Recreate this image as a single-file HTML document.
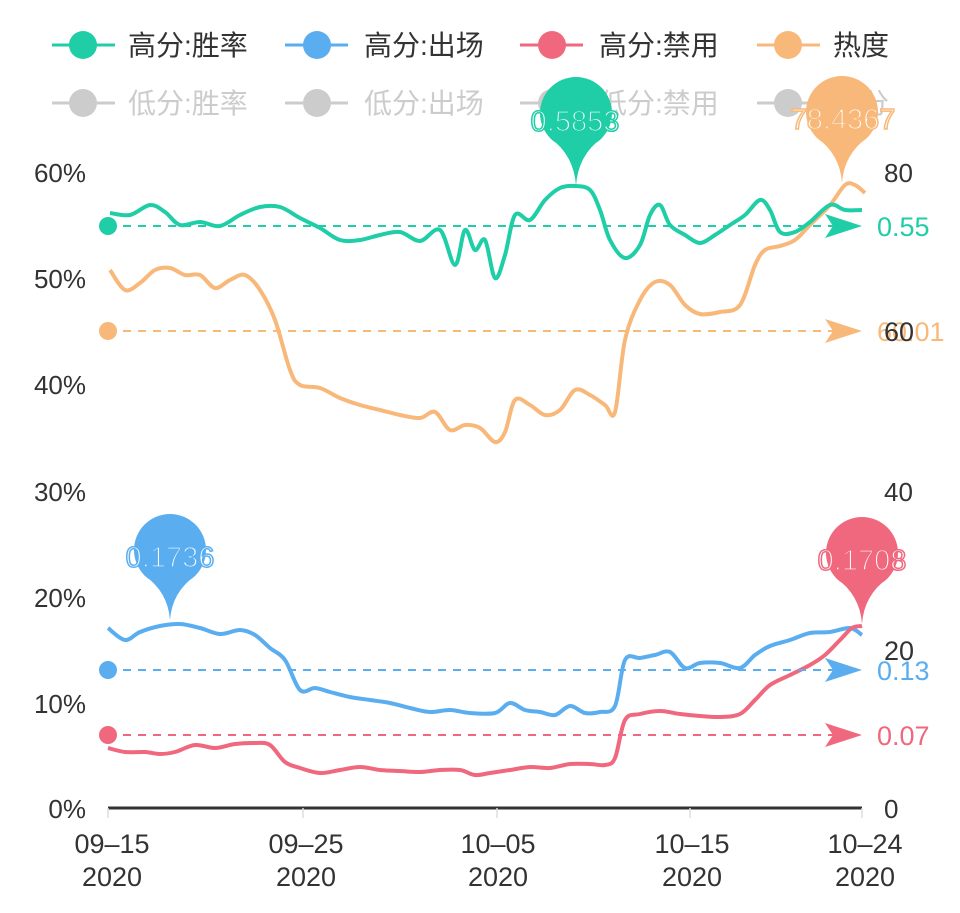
<!DOCTYPE html>
<html><head><meta charset="utf-8"><style>
html,body{margin:0;padding:0;background:#fff;width:960px;height:913px;overflow:hidden}
svg text{font-family:"Liberation Sans","Noto Sans CJK SC",sans-serif}
</style></head><body>
<svg id="s" width="960" height="913" viewBox="0 0 960 913" xmlns="http://www.w3.org/2000/svg">
<g font-size="28">
 <g fill="#333">
  <line x1="52" y1="45" x2="115" y2="45" stroke="#1fcea6" stroke-width="3"/><circle cx="83" cy="45" r="14" fill="#1fcea6"/>
  <text x="128" y="55">高分:胜率</text>
  <line x1="285" y1="45" x2="348" y2="45" stroke="#5aaef0" stroke-width="3"/><circle cx="317" cy="45" r="14" fill="#5aaef0"/>
  <text x="364" y="55">高分:出场</text>
  <line x1="520" y1="45" x2="583" y2="45" stroke="#f0687e" stroke-width="3"/><circle cx="552" cy="45" r="14" fill="#f0687e"/>
  <text x="599" y="55">高分:禁用</text>
  <line x1="757" y1="45" x2="820" y2="45" stroke="#f8b87a" stroke-width="3"/><circle cx="788" cy="45" r="14" fill="#f8b87a"/>
  <text x="833" y="55">热度</text>
 </g>
 <g fill="#ccc">
  <line x1="52" y1="103" x2="115" y2="103" stroke="#ccc" stroke-width="3"/><circle cx="83" cy="103" r="14"/>
  <text x="128" y="113">低分:胜率</text>
  <line x1="285" y1="103" x2="348" y2="103" stroke="#ccc" stroke-width="3"/><circle cx="317" cy="103" r="14"/>
  <text x="364" y="113">低分:出场</text>
  <line x1="520" y1="103" x2="583" y2="103" stroke="#ccc" stroke-width="3"/><circle cx="552" cy="103" r="14"/>
  <text x="599" y="113">低分:禁用</text>
  <line x1="757" y1="103" x2="820" y2="103" stroke="#ccc" stroke-width="3"/><circle cx="788" cy="103" r="14"/>
  <text x="833" y="113">低分</text>
 </g>
</g>
<g font-size="26" fill="#333">
 <text x="86" y="182" text-anchor="end">60%</text>
 <text x="86" y="288" text-anchor="end">50%</text>
 <text x="86" y="394" text-anchor="end">40%</text>
 <text x="86" y="501" text-anchor="end">30%</text>
 <text x="86" y="607" text-anchor="end">20%</text>
 <text x="86" y="713" text-anchor="end">10%</text>
 <text x="86" y="818" text-anchor="end">0%</text>
 <text x="884" y="182">80</text>
 <text x="884" y="501">40</text>
 <text x="884" y="818">0</text>
</g>
<line x1="108" y1="808" x2="862" y2="808" stroke="#333" stroke-width="3"/>
<g stroke="#ddd" stroke-width="1.5"><line x1="108" y1="808" x2="108" y2="818"/><line x1="303" y1="808" x2="303" y2="818"/><line x1="497" y1="808" x2="497" y2="818"/><line x1="690" y1="808" x2="690" y2="818"/><line x1="862" y1="808" x2="862" y2="818"/></g>
<g font-size="27" fill="#333" text-anchor="middle">
 <text x="112" y="853">09–15</text><text x="112" y="886">2020</text>
 <text x="306" y="853">09–25</text><text x="306" y="886">2020</text>
 <text x="498" y="853">10–05</text><text x="498" y="886">2020</text>
 <text x="692" y="853">10–15</text><text x="692" y="886">2020</text>
 <text x="865" y="853">10–24</text><text x="865" y="886">2020</text>
</g>
<g fill="none" stroke-width="4" stroke-linejoin="round">
<polyline class="sm" stroke="#f8b87a" points="110,270 125,290 140,283 155,270 170,268 185,275 200,275 215,288 230,280 245,275 260,290 275,320 290,370 300,385 320,388 340,398 360,405 380,410 400,415 420,418 435,412 450,430 465,425 480,428 495,442 505,432 515,400 530,405 545,415 560,410 575,390 590,395 605,405 615,412 625,340 640,300 655,282 670,285 685,305 700,314 720,312 740,305 755,265 765,250 780,246 795,240 810,225 830,205 845,185 855,185 865,193"/>
<polyline class="sm" stroke="#1fcea6" points="110,213 130,215 150,205 165,212 180,225 200,222 220,226 240,215 260,207 280,207 300,218 320,228 340,240 360,240 380,235 400,232 420,241 440,230 455,265 465,230 475,250 485,240 495,278 505,255 515,215 530,220 545,200 560,188 575,186 590,190 600,210 610,240 625,258 640,245 650,215 660,205 670,225 685,235 700,243 715,235 730,225 745,215 760,200 770,210 780,232 795,232 810,222 830,205 845,210 862,210"/>
<polyline class="sm" stroke="#5aaef0" points="108,628 125,640 140,632 160,626 180,624 200,628 220,634 240,630 255,635 270,648 285,660 300,690 315,688 330,692 350,697 370,700 390,703 410,708 430,712 450,710 470,713 495,713 510,703 525,710 540,712 555,715 570,706 585,713 600,712 615,706 625,660 640,658 655,655 670,652 685,668 700,663 720,663 740,668 755,655 770,646 790,640 810,633 830,632 850,628 862,635"/>
<polyline class="sm" stroke="#f0687e" points="108,748 125,752 145,752 160,754 175,752 195,745 215,748 235,744 255,743 270,745 285,762 300,768 320,773 340,770 360,767 380,770 400,771 420,772 440,770 460,770 475,775 490,773 510,770 530,767 550,768 570,764 590,764 605,765 615,758 625,720 640,714 660,711 680,714 700,716 720,717 740,714 755,700 770,685 790,675 810,665 825,655 840,640 852,628 862,626"/>
</g>
<g stroke-width="2" stroke-dasharray="8,7">
 <line x1="108" y1="226" x2="835" y2="226" stroke="#1fcea6"/>
 <line x1="108" y1="331" x2="835" y2="331" stroke="#f8b87a"/>
 <line x1="108" y1="670" x2="835" y2="670" stroke="#5aaef0"/>
 <line x1="108" y1="735" x2="835" y2="735" stroke="#f0687e"/>
</g>
<circle cx="108" cy="226" r="9" fill="#1fcea6"/><path d="M825,214 L862,226 L825,238 L833,226Z" fill="#1fcea6"/>
<circle cx="108" cy="331" r="9" fill="#f8b87a"/><path d="M825,319 L862,331 L825,343 L833,331Z" fill="#f8b87a"/>
<circle cx="108" cy="670" r="9" fill="#5aaef0"/><path d="M825,658 L862,670 L825,682 L833,670Z" fill="#5aaef0"/>
<circle cx="108" cy="735" r="9" fill="#f0687e"/><path d="M825,723 L862,735 L825,747 L833,735Z" fill="#f0687e"/>
<g font-size="27">
 <text x="877" y="236" fill="#1fcea6">0.55</text>
 <text x="877" y="341" fill="#f8b87a">60.01</text>
 <text x="884" y="341" fill="#333">60</text>
 <text x="877" y="680" fill="#5aaef0">0.13</text>
 <text x="877" y="745" fill="#f0687e">0.07</text>
 <text x="884" y="660" fill="#333">20</text>
</g>
<g>
 <circle cx="576" cy="113" r="36" fill="#1fcea6"/><path d="M550,138 Q574,155 576,186 Q578,155 602,138Z" fill="#1fcea6"/>
 <circle cx="842" cy="112" r="36" fill="#f8b87a"/><path d="M816,137 Q840,154 842,183 Q844,154 868,137Z" fill="#f8b87a"/>
 <circle cx="170" cy="550" r="36" fill="#5aaef0"/><path d="M144,575 Q168,592 170,620 Q172,592 196,575Z" fill="#5aaef0"/>
 <circle cx="862" cy="553" r="36" fill="#f0687e"/><path d="M836,578 Q860,595 862,624 Q864,595 888,578Z" fill="#f0687e"/>
</g>
<g font-size="29" fill="#fff" text-anchor="middle" stroke-width="1.5">
 <text x="575" y="131" stroke="#1fcea6">0.5853</text>
 <text x="843" y="129" stroke="#f8b87a">78.4367</text>
 <text x="170" y="567" stroke="#5aaef0">0.1736</text>
 <text x="862" y="570" stroke="#f0687e">0.1708</text>
</g>
</svg>
<script>
document.querySelectorAll('polyline.sm').forEach(function(pl){
 var p=pl.getAttribute('points').trim().split(/\s+/).map(function(s){return s.split(',').map(Number)});
 var d='M'+p[0][0]+','+p[0][1];
 for(var i=0;i<p.length-1;i++){
  var p0=p[i-1]||p[i],p1=p[i],p2=p[i+1],p3=p[i+2]||p2;
  var c1x=p1[0]+(p2[0]-p0[0])/6,c1y=p1[1]+(p2[1]-p0[1])/6,c2x=p2[0]-(p3[0]-p1[0])/6,c2y=p2[1]-(p3[1]-p1[1])/6;
  d+=' C'+c1x+','+c1y+' '+c2x+','+c2y+' '+p2[0]+','+p2[1];
 }
 var e=document.createElementNS('http://www.w3.org/2000/svg','path');
 e.setAttribute('d',d);e.setAttribute('stroke',pl.getAttribute('stroke'));
 pl.parentNode.replaceChild(e,pl);
});
</script>
</body></html>
